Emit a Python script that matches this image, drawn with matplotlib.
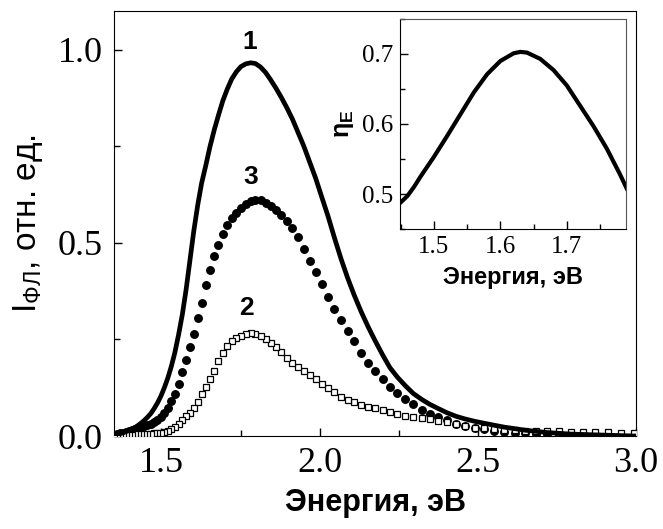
import matplotlib
matplotlib.use("Agg")
import matplotlib.pyplot as plt
from matplotlib.ticker import MultipleLocator

plt.rcParams['font.family'] = ['Liberation Sans', 'DejaVu Sans']
plt.rcParams['mathtext.fontset'] = 'custom'
plt.rcParams['mathtext.rm'] = 'Liberation Sans'
plt.rcParams['mathtext.bf'] = 'Liberation Sans:bold'
plt.rcParams['mathtext.it'] = 'Liberation Sans:italic'

# photon energy grid of the spectra, eV
energy = [2.995, 2.952, 2.911, 2.870, 2.831, 2.793, 2.756, 2.719, 2.684, 2.650,
          2.616, 2.583, 2.551, 2.520, 2.490, 2.460, 2.431, 2.403, 2.375, 2.348,
          2.322, 2.296, 2.271, 2.246, 2.222, 2.199, 2.175, 2.153, 2.131, 2.109,
          2.088, 2.067, 2.046, 2.026, 2.006, 1.987, 1.968, 1.950, 1.931, 1.914,
          1.896, 1.879, 1.862, 1.845, 1.829, 1.813, 1.797, 1.782, 1.766, 1.751,
          1.737, 1.722, 1.708, 1.694, 1.680, 1.667, 1.653, 1.640, 1.627, 1.615,
          1.602, 1.590, 1.578, 1.566, 1.554, 1.542, 1.531, 1.520, 1.509, 1.498,
          1.487, 1.476, 1.466, 1.455, 1.445, 1.435, 1.425, 1.416, 1.406, 1.396,
          1.387, 1.378, 1.369, 1.360, 1.351]

# curve 1 (solid line)
pl_1 = [0.000, 0.001, 0.002, 0.003, 0.004, 0.005, 0.007, 0.009, 0.012, 0.015,
        0.019, 0.023, 0.028, 0.033, 0.038, 0.044, 0.051, 0.060, 0.071, 0.082,
        0.095, 0.110, 0.130, 0.152, 0.177, 0.210, 0.247, 0.283, 0.322, 0.365,
        0.410, 0.460, 0.515, 0.570, 0.620, 0.668, 0.710, 0.750, 0.787, 0.820,
        0.850, 0.876, 0.900, 0.922, 0.941, 0.955, 0.964, 0.966, 0.963, 0.956,
        0.943, 0.924, 0.898, 0.868, 0.830, 0.793, 0.748, 0.700, 0.655, 0.600,
        0.530, 0.455, 0.380, 0.315, 0.262, 0.215, 0.180, 0.150, 0.125, 0.103,
        0.085, 0.070, 0.058, 0.048, 0.040, 0.033, 0.027, 0.022, 0.018, 0.014,
        0.011, 0.008, 0.006, 0.004, 0.002]

# curve 2 (open squares)
pl_2 = [0.009, 0.009, 0.010, 0.010, 0.011, 0.011, 0.012, 0.012, 0.013, 0.014,
        0.015, 0.016, 0.018, 0.020, 0.022, 0.025, 0.030, 0.035, 0.040, 0.043,
        0.046, 0.049, 0.053, 0.058, 0.062, 0.067, 0.072, 0.076, 0.081, 0.087,
        0.093, 0.101, 0.113, 0.124, 0.135, 0.147, 0.158, 0.168, 0.179, 0.190,
        0.203, 0.218, 0.230, 0.242, 0.251, 0.258, 0.265, 0.267, 0.264, 0.259,
        0.253, 0.245, 0.232, 0.214, 0.193, 0.169, 0.147, 0.128, 0.109, 0.089,
        0.072, 0.060, 0.051, 0.041, 0.032, 0.024, 0.018, 0.014, 0.011, 0.009,
        0.008, 0.007, 0.006, 0.005, 0.005, 0.004, 0.004, 0.004, 0.003, 0.003,
        0.003, 0.003, 0.002, 0.002, 0.002]

# curve 3 (filled circles)
pl_3 = [0.000, 0.001, 0.001, 0.002, 0.002, 0.003, 0.004, 0.005, 0.006, 0.007,
        0.009, 0.011, 0.014, 0.017, 0.021, 0.026, 0.032, 0.041, 0.049, 0.058,
        0.068, 0.082, 0.096, 0.112, 0.128, 0.147, 0.168, 0.189, 0.215, 0.245,
        0.273, 0.300, 0.330, 0.360, 0.394, 0.425, 0.453, 0.483, 0.514, 0.538,
        0.556, 0.571, 0.584, 0.596, 0.604, 0.610, 0.612, 0.608, 0.600, 0.590,
        0.578, 0.563, 0.545, 0.522, 0.495, 0.465, 0.430, 0.390, 0.345, 0.305,
        0.265, 0.230, 0.198, 0.165, 0.135, 0.110, 0.090, 0.072, 0.060, 0.050,
        0.042, 0.035, 0.031, 0.028, 0.025, 0.022, 0.019, 0.017, 0.015, 0.013,
        0.011, 0.009, 0.007, 0.005, 0.003]

# inset: eta_E vs energy
inset_energy = [1.45, 1.46, 1.47, 1.48, 1.49, 1.50, 1.52, 1.54, 1.56, 1.58,
                1.60, 1.62, 1.63, 1.64, 1.66, 1.68, 1.70, 1.72, 1.74, 1.76,
                1.78, 1.79]
inset_eta = [0.488, 0.497, 0.510, 0.525, 0.539, 0.553, 0.583, 0.614, 0.645, 0.671,
             0.690, 0.701, 0.703, 0.702, 0.693, 0.677, 0.655, 0.626, 0.597, 0.565,
             0.528, 0.508]

fig = plt.figure(figsize=(6.63, 5.29), dpi=100)
ax = fig.add_axes([0.172, 0.1758, 0.7873, 0.8034])

ax.plot(energy, pl_3, 'o', color='black', markersize=5.4, zorder=2)
ax.plot(energy, pl_2, 's', markerfacecolor='white', markeredgecolor='black',
        markeredgewidth=0.9, markersize=5.0, zorder=3)
ax.plot(energy, pl_1, '-', color='black', linewidth=3.4, zorder=4)

ax.set_xlim(1.35, 3.0)
ax.set_ylim(0, 1.1)
ax.xaxis.set_major_locator(MultipleLocator(0.5))
ax.xaxis.set_minor_locator(MultipleLocator(0.25))
ax.yaxis.set_major_locator(MultipleLocator(0.5))
ax.yaxis.set_minor_locator(MultipleLocator(0.25))
ax.tick_params(which='both', direction='in', top=False, right=False)
ax.tick_params(which='major', length=6, width=1, pad=8)
ax.tick_params(which='minor', length=4, width=1)
for lab in ax.get_xticklabels() + ax.get_yticklabels():
    lab.set_family('Liberation Serif')
    lab.set_fontsize(26)
ax.xaxis.set_major_formatter(matplotlib.ticker.FormatStrFormatter('%.1f'))
ax.yaxis.set_major_formatter(matplotlib.ticker.FormatStrFormatter('%.1f'))

ax.set_xlabel('Энергия, эВ', fontsize=22, fontweight='bold', labelpad=6)
ax.set_ylabel(r'I$_{\mathrm{ФЛ}}$, отн. ед.', fontsize=24, labelpad=9)

ax.text(1.78, 1.02, '1', fontsize=19, fontweight='bold', ha='center', va='center')
ax.text(1.783, 0.671, '3', fontsize=19, fontweight='bold', ha='center', va='center')
ax.text(1.77, 0.332, '2', fontsize=19, fontweight='bold', ha='center', va='center')

# inset
ins = fig.add_axes([0.6033, 0.5671, 0.3409, 0.397])
ins.plot(inset_energy, inset_eta, '-', color='black', linewidth=3)
ins.set_xlim(1.449, 1.789)
ins.set_ylim(0.45, 0.75)
ins.xaxis.set_major_locator(MultipleLocator(0.1))
ins.xaxis.set_minor_locator(MultipleLocator(0.05))
ins.yaxis.set_major_locator(MultipleLocator(0.1))
ins.yaxis.set_minor_locator(MultipleLocator(0.05))
ins.tick_params(which='both', direction='in', top=False, right=False)
ins.tick_params(which='major', length=6, width=1, pad=5)
ins.tick_params(which='minor', length=3.5, width=1)
ins.xaxis.set_major_formatter(matplotlib.ticker.FormatStrFormatter('%.1f'))
ins.yaxis.set_major_formatter(matplotlib.ticker.FormatStrFormatter('%.1f'))
for lab in ins.get_xticklabels() + ins.get_yticklabels():
    lab.set_family('Liberation Serif')
    lab.set_fontsize(18)
for side in ['top', 'right']:
    ins.spines[side].set_color('#555555')
ins.set_xlabel('Энергия, эВ', fontsize=17, fontweight='bold', labelpad=6)
ins.set_ylabel(r'$\mathbf{η_E}$', fontsize=18, labelpad=4)

fig.savefig('out.png', dpi=100)
